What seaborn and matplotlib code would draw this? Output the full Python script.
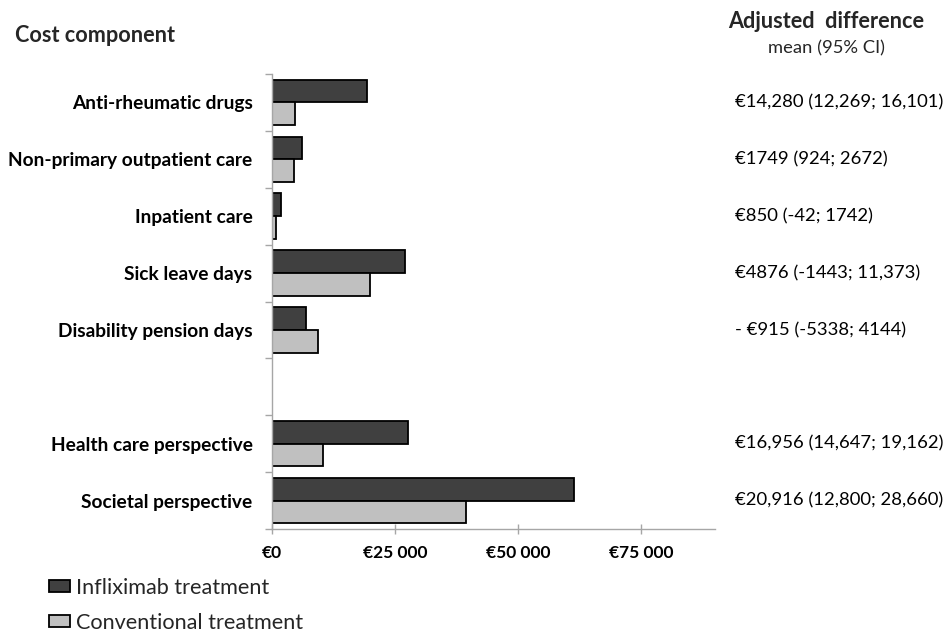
import matplotlib
matplotlib.use("Agg")
import matplotlib.pyplot as plt
import matplotlib.transforms as mtransforms
from matplotlib.ticker import FixedLocator
import seaborn as sns
import pandas as pd
import numpy as np

categories = ["Anti-rheumatic drugs", "Non-primary outpatient care", "Inpatient care",
              "Sick leave days", "Disability pension days", " ",
              "Health care perspective", "Societal perspective"]
infliximab = [19200, 6150, 1830, 27000, 6960, None, 27540, 61430]
conventional = [4730, 4460, 880, 19950, 9270, None, 10410, 39510]
diff_labels = ["€14,280 (12,269; 16,101)", "€1749 (924; 2672)", "€850 (-42; 1742)",
               "€4876 (-1443; 11,373)", "- €915 (-5338; 4144)", "",
               "€16,956 (14,647; 19,162)", "€20,916 (12,800; 28,660)"]
series_names = ["Infliximab treatment", "Conventional treatment"]
x_ticks = [0, 25000, 50000, 75000]
x_ticklabels = ["€0", "€25 000", "€50 000", "€75 000"]

rows = []
for c, a, b in zip(categories, infliximab, conventional):
    if a is not None:
        rows.append({"cat": c, "group": series_names[0], "cost": a})
        rows.append({"cat": c, "group": series_names[1], "cost": b})
df = pd.DataFrame(rows)

sns.set_theme(style="white")
plt.rcParams["font.family"] = ["Lato", "DejaVu Sans"]

W, H = 947, 635
fig = plt.figure(figsize=(W / 100, H / 100), dpi=100)
ax = fig.add_axes([272 / W, (H - 529) / H, (715 - 272) / W, (529 - 74) / H])

sns.barplot(data=df, y="cat", x="cost", hue="group", order=categories,
            hue_order=series_names, palette=["#404040", "#c0c0c0"], saturation=1,
            edgecolor="black", linewidth=1.3, width=0.8, orient="h", ax=ax,
            errorbar=None, legend=True)

ax.set_xlim(0, 90000)
ax.set_ylim(len(categories) - 0.5, -0.5)
ax.set_xlabel("")
ax.set_ylabel("")

# spines
for s in ["top", "right"]:
    ax.spines[s].set_visible(False)
for s in ["left", "bottom"]:
    ax.spines[s].set_color("#a6a6a6")
    ax.spines[s].set_linewidth(1.0)

# x axis
ax.set_xticks(x_ticks)
ax.set_xticklabels(x_ticklabels, fontsize=12.5, fontweight="bold", color="black")
ax.tick_params(axis="x", which="major", bottom=True, direction="inout", length=7,
               width=1, color="#a6a6a6", pad=8)

# y axis: labels at centers, ticks at boundaries
ax.set_yticks(range(len(categories)))
ax.set_yticklabels(categories, fontsize=13.8, fontweight="bold", color="black")
ax.tick_params(axis="y", which="major", left=True, length=0, pad=14)
ax.yaxis.set_minor_locator(FixedLocator(np.arange(-0.5, len(categories), 1.0)))
ax.tick_params(axis="y", which="minor", left=True, direction="out", length=5, width=1,
               color="#a6a6a6")

# right-hand text column
trans = mtransforms.blended_transform_factory(fig.transFigure, ax.transData)
for i, t in enumerate(diff_labels):
    if t:
        ax.text(735 / W, i, t, transform=trans, ha="left", va="center",
                fontsize=13.3, color="black", clip_on=False)

# headers
fig.text(15 / W, 1 - 35 / H, "Cost component", fontsize=15.6, fontweight="bold",
         ha="left", va="center")
fig.text(826 / W, 1 - 22 / H, "Adjusted  difference", fontsize=15.6, fontweight="bold",
         ha="center", va="center")
fig.text(826 / W, 1 - 48 / H, "mean (95% CI)", fontsize=13.2,
         ha="center", va="center")

# legend
handles, labels = ax.get_legend_handles_labels()
ax.legend_.remove()
fig.legend(handles, labels, loc="upper left", bbox_to_anchor=(49 / W, 1 - 578 / H),
           frameon=False, fontsize=15.6, handlelength=0.95, handleheight=0.5,
           handletextpad=0.3, labelspacing=0.68, borderaxespad=0, borderpad=0)

fig.savefig("out.png", dpi=100)
